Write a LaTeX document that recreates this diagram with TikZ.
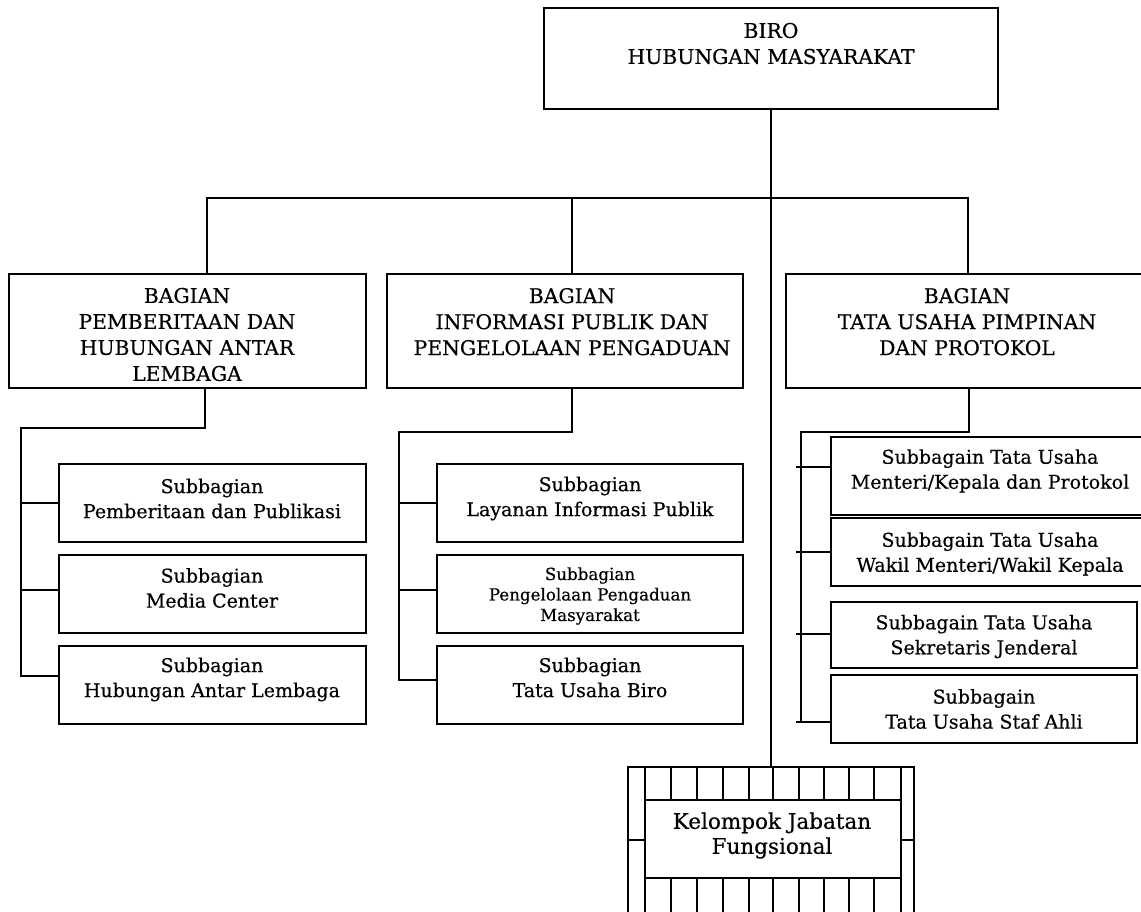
\documentclass[tikz,border=0pt]{standalone}
\usepackage{fontspec}
\setmainfont{DejaVu Serif}[FakeBold=0.5]
\usetikzlibrary{calc}
\begin{document}
\begin{tikzpicture}[x=1pt,y=-1pt,
  box/.style={draw, line width=1.6pt, inner sep=0pt, minimum width=#1},
  box/.default=307pt,
  conn/.style={line width=1.6pt},
  bigtxt/.style={align=center, inner sep=0pt, font=\fontsize{20.3}{26}\selectfont},
  subtxt/.style={align=center, inner sep=0pt, font=\fontsize{19}{25}\selectfont},
  smalltxt/.style={align=center, inner sep=0pt, font=\fontsize{16.7}{20.5}\selectfont},
  kjftxt/.style={align=center, inner sep=0pt, font=\fontsize{21.5}{25}\selectfont}]
\useasboundingbox (0,0) rectangle (1141,911);

% top
\node[box=454pt, minimum height=101pt] (biro) at (771,58.5) {};
\node[bigtxt] (tbiro) at (771,43.5) {BIRO\\HUBUNGAN MASYARAKAT};

% bagian
\node[box=357pt, minimum height=114pt] (bag1) at (187.5,331) {};
\node[box=356pt, minimum height=114pt] (bag2) at (565,331) {};
\node[box=364pt, minimum height=114pt] (bag3) at (968,331) {};
\node[bigtxt] (tbag1) at (187,334.5) {BAGIAN\\PEMBERITAAN DAN\\HUBUNGAN ANTAR\\LEMBAGA};
\node[bigtxt] (tbag2) at (572,321.7) {BAGIAN\\INFORMASI PUBLIK DAN\\PENGELOLAAN PENGADUAN};
\node[bigtxt] (tbag3) at (967,321.7) {BAGIAN\\TATA USAHA PIMPINAN\\DAN PROTOKOL};

% left column
\node[box, minimum height=78pt] (L1) at (212.5,503) {};
\node[box, minimum height=78pt] (L2) at (212.5,594) {};
\node[box, minimum height=78pt] (L3) at (212.5,685) {};
\node[subtxt] (tL1) at (212,498.5) {Subbagian\\Pemberitaan dan Publikasi};
\node[subtxt] (tL2) at (212,588) {Subbagian\\Media Center};
\node[subtxt] (tL3) at (212,679.5) {Subbagian\\Hubungan Antar Lembaga};

% middle column
\node[box=306pt, minimum height=78pt] (M1) at (590,503) {};
\node[box=306pt, minimum height=78pt] (M2) at (590,594) {};
\node[box=306pt, minimum height=78pt] (M3) at (590,685) {};
\node[subtxt] (tM1) at (590,498.5) {Subbagian\\Layanan Informasi Publik};
\node[smalltxt] (tM2) at (590,596) {Subbagian\\Pengelolaan Pengaduan\\Masyarakat};
\node[subtxt] (tM3) at (590,677.5) {Subbagian\\Tata Usaha Biro};

% right column
\node[box=319pt, minimum height=78pt] (R1) at (990.5,476) {};
\node[box=319pt, minimum height=68pt] (R2) at (990.5,552) {};
\node[box=306pt, minimum height=66pt] (R3) at (984,635) {};
\node[box=306pt, minimum height=68pt] (R4) at (984,709) {};
\node[subtxt] (tR1) at (990,471) {Subbagain Tata Usaha\\Menteri/Kepala dan Protokol};
\node[subtxt] (tR2) at (990,554) {Subbagain Tata Usaha\\Wakil Menteri/Wakil Kepala};
\node[subtxt] (tR3) at (984,636.5) {Subbagain Tata Usaha\\Sekretaris Jenderal};
\node[subtxt] (tR4) at (984,709) {Subbagain\\Tata Usaha Staf Ahli};

% kelompok jabatan fungsional
\node[box=286pt, minimum height=150pt] (kjf) at (771,842) {};
\draw[conn] (645,800) rectangle (901,878);
\foreach \x in {645,671,697,723,749,773,799,824,849,874,901} {
  \draw[conn] (\x,767) -- (\x,800);
  \draw[conn] (\x,878) -- (\x,917);
}
\draw[conn] (628,840) -- (645,840);
\draw[conn] (901,840) -- (914,840);
\node[kjftxt] (tkjf) at (772,835.5) {Kelompok Jabatan\\Fungsional};

% connectors
\coordinate (j) at (771,198);
\draw[conn] (biro.south) -- (biro.south |- kjf.north);
\draw[conn] ([xshift=19.5pt]bag1.north) |- (j) -| (bag3.north);
\draw[conn] ([xshift=7pt]bag2.north) |- (j);

\coordinate (lt) at (21,428);
\coordinate (lb) at (21,676);
\draw[conn] ([xshift=17.5pt]bag1.south) |- (lt) -- (lb) -- ([yshift=9pt]L3.west);
\draw[conn] (L1.west -| lt) -- (L1.west);
\draw[conn] ([yshift=4pt]L2.west -| lt) -- ([yshift=4pt]L2.west);

\coordinate (mt) at (399,432);
\coordinate (mb) at (399,680);
\draw[conn] ([xshift=7pt]bag2.south) |- (mt) -- (mb) -- ([yshift=5pt]M3.west);
\draw[conn] (M1.west -| mt) -- (M1.west);
\draw[conn] ([yshift=4pt]M2.west -| mt) -- ([yshift=4pt]M2.west);

\coordinate (rt) at (801,432);
\coordinate (rb) at (801,722);
\draw[conn] ([xshift=1pt]bag3.south) |- (rt) -- (rb);
\draw[conn] ([yshift=9pt]R1.west) -- +(-34,0);
\draw[conn] (R2.west) -- +(-34,0);
\draw[conn] ([yshift=1pt]R3.west) -- +(-34,0);
\draw[conn] ([yshift=-13pt]R4.west) -- +(-34,0);
\end{tikzpicture}
\end{document}
